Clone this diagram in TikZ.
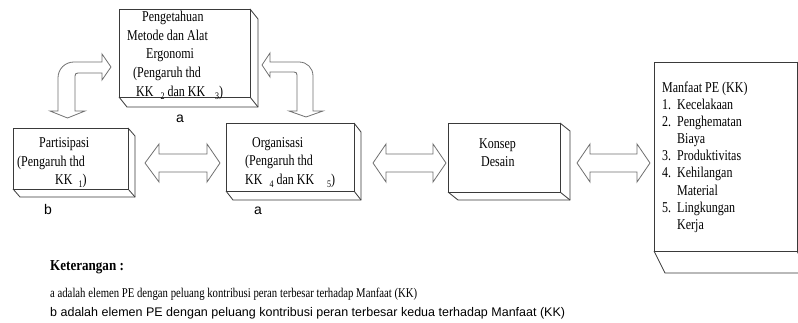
\documentclass[tikz,border=0pt]{standalone}
\usepackage{fontspec}
\setmainfont{Liberation Serif}[FakeStretch=0.8]
\newfontfamily\legendserif{Liberation Serif}[FakeStretch=0.86]
\newfontfamily\plainsans{Liberation Sans}
\usetikzlibrary{fit}
\definecolor{boxgray}{HTML}{3A3A3A}
\definecolor{arrowgray}{HTML}{707070}
\newcommand{\boxfont}{\fontsize{15}{17}\selectfont}
\newcommand{\lowsub}[1]{\raisebox{-3.5pt}{\fontsize{10}{10}\selectfont #1}}
% bevelled box: name, left, top, right, bottom, depth x, depth y
\newcommand{\bevelbox}[7]{%
  \draw[boxline] (#2,#5) -- (#2+#6,#5+#7) -- (#4+#6,#5+#7) -- (#4+#6,#3+#7) -- (#4,#3);
  \draw[boxline] (#4,#5) -- (#4+#6,#5+#7);
  \node[boxfront, fit={(#2,#3) (#4,#5)}] (#1) {};
}
\begin{document}
\begin{tikzpicture}[x=1pt,y=-1pt,
  boxline/.style={draw=boxgray, line width=0.8pt},
  boxfront/.style={draw=boxgray, line width=0.8pt, inner sep=0pt},
  blockarrow/.style={draw=arrowgray, line width=0.8pt, fill=white, line join=miter},
  txt/.style={inner sep=0pt, anchor=base west, font=\boxfont},
  tag/.style={inner sep=0pt, anchor=base, font=\plainsans\fontsize{14}{14}\selectfont},
  ]
\useasboundingbox[fill=white] (0,0) rectangle (798,323);

% boxes
\bevelbox{pengetahuan}{119}{9}{250}{97}{8}{10}
\bevelbox{partisipasi}{13}{128}{128}{189}{7}{8}
\bevelbox{organisasi}{226}{123}{354}{191}{7}{9}
\bevelbox{konsep}{448}{123}{560}{192}{10}{8}
\bevelbox{manfaat}{654}{62}{797}{251}{11}{22}

% texts inside boxes
\node[txt] (pg1) at (142,21.5) {Pengetahuan};
\node[txt] (pg2) at (127,40.2) {Metode dan Alat};
\node[txt] (pg3) at (146,58.9) {Ergonomi};
\node[txt] (pg4) at (133,77.6) {(Pengaruh thd};
\node[txt] (pg5) at (136,96.3) {KK\hspace{7pt}\lowsub{2}\hspace{3pt}dan KK\hspace{10pt}\lowsub{3})};

\node[txt] (pa1) at (39,147.5) {Partisipasi};
\node[txt] (pa2) at (17,166.5) {(Pengaruh thd};
\node[txt] (pa3) at (55,184.5) {KK\hspace{6pt}\lowsub{1})};

\node[txt] (or1) at (252,147.5) {Organisasi};
\node[txt] (or2) at (245,165.5) {(Pengaruh thd};
\node[txt] (or3) at (245,184.5) {KK\hspace{7pt}\lowsub{4}\hspace{3pt}dan KK\hspace{13pt}\lowsub{5})};

\node[txt] (ko1) at (479,149) {Konsep};
\node[txt] (ko2) at (481,167) {Desain};

\node[txt] (mf0) at (662,92.5) {Manfaat PE (KK)};
\node[txt] (mf1) at (662,109.6) {\makebox[15pt][l]{1.}Kecelakaan};
\node[txt] (mf2) at (662,126.7) {\makebox[15pt][l]{2.}Penghematan};
\node[txt] (mf3) at (662,143.8) {\makebox[15pt][l]{}Biaya};
\node[txt] (mf4) at (662,160.9) {\makebox[15pt][l]{3.}Produktivitas};
\node[txt] (mf5) at (662,178.0) {\makebox[15pt][l]{4.}Kehilangan};
\node[txt] (mf6) at (662,195.1) {\makebox[15pt][l]{}Material};
\node[txt] (mf7) at (662,212.2) {\makebox[15pt][l]{5.}Lingkungan};
\node[txt] (mf8) at (662,229.3) {\makebox[15pt][l]{}Kerja};

% letter tags
\node[tag] (tagA1) at (180,123) {a};
\node[tag] (tagB) at (48,215) {b};
\node[tag] (tagA2) at (258,215) {a};

% double block arrows between the boxes
\draw[blockarrow] (145,163) -- (159,144) -- (159,154) -- (207,154) -- (207,144) -- (220,163)
  -- (207,182) -- (207,172) -- (159,172) -- (159,182) -- cycle;
\draw[blockarrow] (373,163) -- (386,144) -- (386,154) -- (433,154) -- (433,144) -- (446,163)
  -- (433,182) -- (433,172) -- (386,172) -- (386,182) -- cycle;
\draw[blockarrow] (577,163) -- (590,144) -- (590,154) -- (637,154) -- (637,144) -- (650,163)
  -- (637,182) -- (637,172) -- (590,172) -- (590,182) -- cycle;

% bent arrows around the upper box
\draw[blockarrow] (111,67) -- (102,54) -- (102,62) -- (74,62) .. controls (65,62) and (58,69) .. (58,78)
  -- (58,111) -- (50,111) -- (67.5,118) -- (85,111) -- (75,111) -- (75,76)
  .. controls (75,74) and (76,73) .. (78,73) -- (102,73) -- (102,80) -- cycle;
\draw[blockarrow] (262,65) -- (270,53) -- (270,62) -- (299,62) .. controls (307,62) and (313,68) .. (313,76)
  -- (313,111) -- (323,111) -- (306,117) -- (289,111) -- (297,111) -- (297,75)
  .. controls (297,73) and (296,72) .. (294,72) -- (270,72) -- (270,77) -- cycle;

% legend
\node[txt, font=\legendserif\bfseries\fontsize{15.2}{15}\selectfont] (ket) at (50,270) {Keterangan :};
\node[txt, font=\fontsize{13.4}{14}\selectfont] (keta) at (50,297) {a adalah elemen PE dengan peluang kontribusi peran terbesar terhadap Manfaat (KK)};
\node[txt, font=\plainsans\fontsize{12.5}{12}\selectfont] (ketb) at (50,316) {b adalah elemen PE dengan peluang kontribusi peran terbesar kedua terhadap Manfaat (KK)};
\end{tikzpicture}
\end{document}
